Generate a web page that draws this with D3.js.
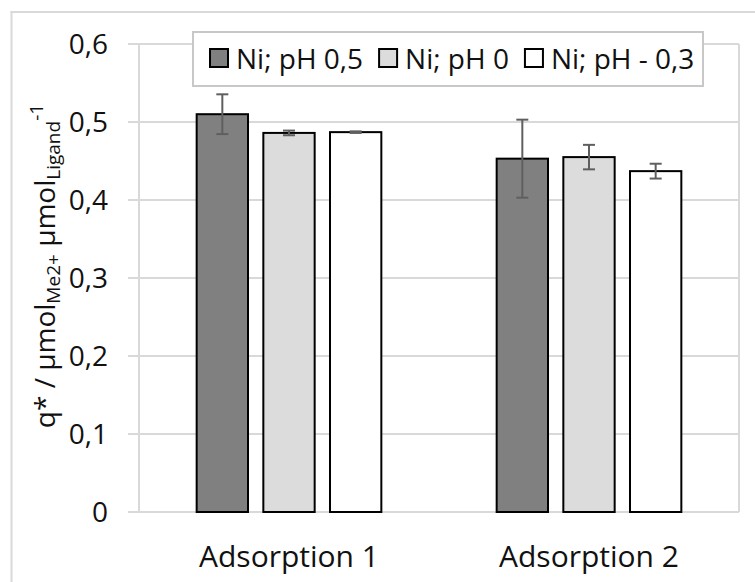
<!DOCTYPE html>
<html>
<head>
<meta charset="utf-8">
<script src="https://cdn.jsdelivr.net/npm/d3@7/dist/d3.min.js"></script>
<style>
  html, body { margin: 0; padding: 0; background: #fff; }
  svg { display: block; font-family: "Open Sans", sans-serif; }
</style>
</head>
<body>
<svg id="chart" width="755" height="582"></svg>
<script>
// ---- data ----
const categories = ["Adsorption 1", "Adsorption 2"];
const seriesNames = ["Ni; pH 0,5", "Ni; pH 0", "Ni; pH - 0,3"];
const seriesColors = ["#808080", "#dcdcdc", "#ffffff"];
const valuesPH05 = [0.510, 0.453];
const valuesPH0  = [0.486, 0.455];
const valuesPHm03 = [0.487, 0.437];
const errPH05 = [0.0255, 0.050];
const errPH0  = [0.003, 0.0157];
const errPHm03 = [0.001, 0.0095];
const yTicks = [0, 0.1, 0.2, 0.3, 0.4, 0.5, 0.6];
const yTickLabels = ["0", "0,1", "0,2", "0,3", "0,4", "0,5", "0,6"];

const seriesValues = [valuesPH05, valuesPH0, valuesPHm03];
const seriesErrors = [errPH05, errPH0, errPHm03];

const svg = d3.select("#chart");

// outer chart border (cropped: only left and top visible)
svg.append("line").attr("x1", 11.5).attr("x2", 11.5).attr("y1", 11).attr("y2", 582)
  .attr("stroke", "#d9d9d9").attr("stroke-width", 2);
svg.append("line").attr("x1", 10.5).attr("x2", 755).attr("y1", 12).attr("y2", 12)
  .attr("stroke", "#d9d9d9").attr("stroke-width", 2);

const plot = { left: 139, right: 739, top: 44, bottom: 512 };

const y = d3.scaleLinear().domain([0, 0.6]).range([plot.bottom, plot.top]);
const x0 = d3.scaleBand().domain(categories).range([plot.left, plot.right]).padding(0);
const x1 = d3.scaleBand().domain(d3.range(seriesNames.length))
  .range([0, x0.bandwidth()]).paddingInner(0.2).paddingOuter(0.85);

// gridlines (with outward ticks)
svg.append("g").selectAll("line").data(yTicks).join("line")
  .attr("x1", plot.left - 11).attr("x2", plot.right)
  .attr("y1", d => y(d)).attr("y2", d => y(d))
  .attr("stroke", "#d9d9d9").attr("stroke-width", 2);

// left axis line and right plot border
svg.append("line").attr("x1", plot.left).attr("x2", plot.left)
  .attr("y1", y(0.6)).attr("y2", y(0)).attr("stroke", "#d9d9d9").attr("stroke-width", 2);
svg.append("line").attr("x1", plot.right).attr("x2", plot.right)
  .attr("y1", y(0.6)).attr("y2", y(0)).attr("stroke", "#d9d9d9").attr("stroke-width", 2);

// y tick labels
svg.append("g").selectAll("text").data(yTicks).join("text")
  .attr("x", 108).attr("y", d => y(d)).attr("dy", "0.36em")
  .attr("text-anchor", "end").attr("font-size", 28).attr("fill", "#111")
  .text((d, i) => yTickLabels[i]);

// x labels
svg.append("g").selectAll("text").data(categories).join("text")
  .attr("x", d => x0(d) + x0.bandwidth() / 2).attr("y", 567)
  .attr("text-anchor", "middle").attr("font-size", 30).attr("fill", "#111")
  .text(d => d);

// bars
const bw = x1.bandwidth();
seriesNames.forEach((name, si) => {
  const g = svg.append("g");
  g.selectAll("rect").data(categories).join("rect")
    .attr("x", d => x0(d) + x1(si) + 1)
    .attr("y", (d, ci) => y(seriesValues[si][ci]))
    .attr("width", bw - 2)
    .attr("height", (d, ci) => y(0) - y(seriesValues[si][ci]))
    .attr("fill", seriesColors[si]).attr("stroke", "#000").attr("stroke-width", 2);
});

// error bars
seriesNames.forEach((name, si) => {
  const g = svg.append("g").attr("stroke", "#5f5f5f").attr("stroke-width", 2);
  categories.forEach((c, ci) => {
    const cx = x0(c) + x1(si) + bw / 2;
    const v = seriesValues[si][ci], e = seriesErrors[si][ci];
    g.append("line").attr("x1", cx).attr("x2", cx).attr("y1", y(v + e)).attr("y2", y(v - e));
    g.append("line").attr("x1", cx - 6).attr("x2", cx + 6).attr("y1", y(v + e)).attr("y2", y(v + e));
    g.append("line").attr("x1", cx - 6).attr("x2", cx + 6).attr("y1", y(v - e)).attr("y2", y(v - e));
  });
});

// legend
const legend = svg.append("g");
const legBox = legend.append("rect").attr("x", 193).attr("y", 32).attr("width", 510).attr("height", 54)
  .attr("fill", "#fff").attr("stroke", "#c8c8c8").attr("stroke-width", 2);
let lx = 209;
seriesNames.forEach((name, si) => {
  legend.append("rect").attr("x", lx + 1).attr("y", 49).attr("width", 18).attr("height", 18)
    .attr("fill", seriesColors[si]).attr("stroke", "#000").attr("stroke-width", 2);
  const t = legend.append("text").attr("x", lx + 27).attr("y", 69)
    .attr("font-size", 28).attr("fill", "#111").text(name);
  lx = lx + 27 + t.node().getComputedTextLength() + 15;
});

// y axis title
const yt = svg.append("text")
  .attr("transform", "translate(55,266) rotate(-90)")
  .attr("text-anchor", "middle").attr("font-size", 28).attr("fill", "#111");
yt.append("tspan").text("q* / µmol");
yt.append("tspan").attr("font-size", 19).attr("baseline-shift", "-5").text("Me2+");
yt.append("tspan").text(" µmol");
yt.append("tspan").attr("font-size", 19).attr("baseline-shift", "-5").text("Ligand");
yt.append("tspan").attr("font-size", 19).attr("baseline-shift", "12").text("-1");
</script>
</body>
</html>
